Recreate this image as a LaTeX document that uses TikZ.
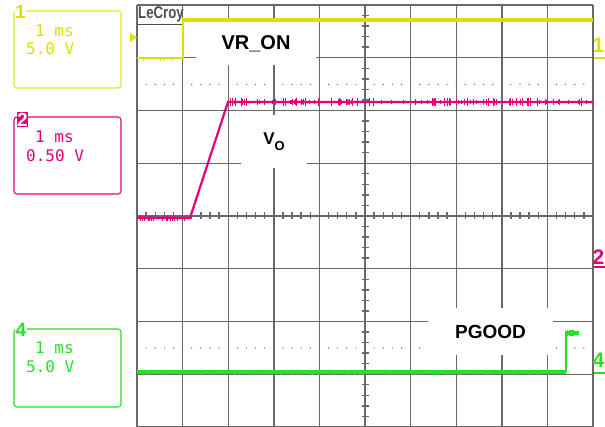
\documentclass[tikz,border=0pt]{standalone}
\usepackage{fontspec}
\setmainfont{Liberation Sans}
\newfontfamily\readoutfont{DejaVu Sans Mono}
\definecolor{chyellow}{RGB}{222,222,0}
\definecolor{chpink}{RGB}{230,0,120}
\definecolor{chgreen}{RGB}{35,225,35}
\definecolor{gridgray}{RGB}{105,105,105}
\tikzset{
  gridline/.style={gridgray, line width=1.4pt},
  chbox/.style={rounded corners=3pt, line width=1.1pt},
  readout/.style={font=\readoutfont\fontsize{16}{16}\selectfont, anchor=west, inner sep=0pt},
  tag/.style={fill=white, font=\bfseries\fontsize{20}{20}\selectfont, inner sep=0pt},
  chtag/.style={font=\bfseries\fontsize{19}{19}\selectfont, inner sep=0.6pt},
  sidetag/.style={font=\bfseries\fontsize{21}{21}\selectfont, inner sep=0pt},
}
\begin{document}
\begin{tikzpicture}[x=1pt,y=-1pt]
\useasboundingbox (0,0) rectangle (605,427);

% Graticule
\foreach \i in {0,...,10}
  \draw[gridline] ({137+\i*45.6},5) -- ({137+\i*45.6},427);
\foreach \j in {0,...,8}
  \draw[gridline] (137,{5+\j*52.75}) -- (593,{5+\j*52.75});
\foreach \k in {1,...,49}
  \draw[gridline] ({137+\k*9.12},212.5) -- ({137+\k*9.12},219.5);
\foreach \k in {1,...,39}
  \draw[gridline] (361.5,{5+\k*10.55}) -- (368.5,{5+\k*10.55});
\foreach \k in {1,...,49} {
  \fill[gridgray] ({137+\k*9.12},84.4) circle (0.7);
  \fill[gridgray] ({137+\k*9.12},347.9) circle (0.7);
}

% Channel 1: VR_ON
\draw[chyellow, line width=1.5pt] (137,58) -- (183,58) -- (183,21);
\draw[chyellow, line width=4pt] (182.3,20) -- (593,20);
\foreach \x in {143,160,163,171}
  \draw[chyellow, line width=1pt] (\x,58) -- (\x,61);
\fill[chyellow] (130,33) -- (137,37.5) -- (130,42) -- cycle;

% Channel 2: Vo
\draw[chpink, line width=2.2pt] (137,218) -- (190,218) -- (228,102) -- (593,102);
\pgfmathsetseed{11}
\foreach \k in {1,...,110} {
  \pgfmathsetmacro{\xx}{230+rnd*360}
  \pgfmathsetmacro{\dy}{1.5+rnd*3}
  \draw[chpink, line width=0.7pt] (\xx,{102-\dy}) -- (\xx,{102+\dy});
}
\foreach \k in {1,...,20} {
  \pgfmathsetmacro{\xx}{138+rnd*50}
  \draw[chpink, line width=0.7pt] (\xx,216) -- (\xx,221);
}

% Channel 4: PGOOD
\draw[chgreen, line width=3.2pt] (137,372) -- (566,372);
\draw[chgreen, line width=1.2pt] (566,372) -- (566,334);
\draw[chgreen, line width=3.2pt] (565.4,333) -- (579,333);
\foreach \k in {1,...,60} {
  \pgfmathsetmacro{\xx}{140+rnd*420}
  \draw[chgreen, line width=0.7pt] (\xx,370) -- (\xx,375);
}
\foreach \k in {1,...,8} {
  \pgfmathsetmacro{\xx}{567+rnd*12}
  \draw[chgreen, line width=0.7pt] (\xx,330) -- (\xx,336);
}

% Labels over the traces
\node[tag, minimum width=120pt, minimum height=43pt] (vron) at (256,43.5) {VR\_ON};
\node[tag, minimum width=66pt, minimum height=53pt] (vo) at (274,141.5)
  {\fontsize{17}{17}\selectfont V\raisebox{-0.35em}{\fontsize{13}{13}\selectfont O}};
\node[tag, minimum width=125pt, minimum height=47pt] (pgood) at (490.5,331.5)
  {\fontsize{19}{19}\selectfont PGOOD};

% LeCroy logo
\node[anchor=west, text=gridgray!75!black, font=\bfseries\fontsize{17}{17}\selectfont,
  xscale=0.78, inner sep=0pt] (logo) at (138,14) {LeCroy};
\draw[gridgray!75!black, line width=1.2pt] (138,24.5) -- (182,24.5);

% Readout boxes
\draw[chyellow!85!white, chbox] (14,11) rectangle (121,88);
\node[chtag, fill=white, text=chyellow] (tagone) at (20.5,11.5) {1};
\node[readout, text=chyellow] (timeone) at (35,31) {1 ms};
\node[readout, text=chyellow] (voltone) at (26,49) {5.0 V};

\draw[chpink, chbox] (14,117) rectangle (121,194);
\node[chtag, fill=chpink, text=white] (tagtwo) at (22.5,119.5) {2};
\node[readout, text=chpink] (timetwo) at (35,137) {1 ms};
\node[readout, text=chpink] (volttwo) at (26,156) {0.50 V};

\draw[chgreen, chbox] (14,329) rectangle (121,407);
\node[chtag, fill=white, text=chgreen] (tagfour) at (21,330) {4};
\node[readout, text=chgreen] (timefour) at (35,348) {1 ms};
\node[readout, text=chgreen] (voltfour) at (26,367) {5.0 V};

% Right-hand markers
\node[sidetag, text=chyellow] (sideone) at (598.5,45) {1};
\draw[chyellow, line width=1.2pt] (594,58) -- (605,58);
\node[sidetag, text=chpink] (sidetwo) at (598.5,257) {2};
\draw[chpink, line width=1.2pt] (594,267) -- (605,267);
\node[sidetag, text=chgreen] (sidefour) at (598.5,360) {4};
\draw[chgreen, line width=1.2pt] (594,373) -- (605,373);

\end{tikzpicture}
\end{document}
